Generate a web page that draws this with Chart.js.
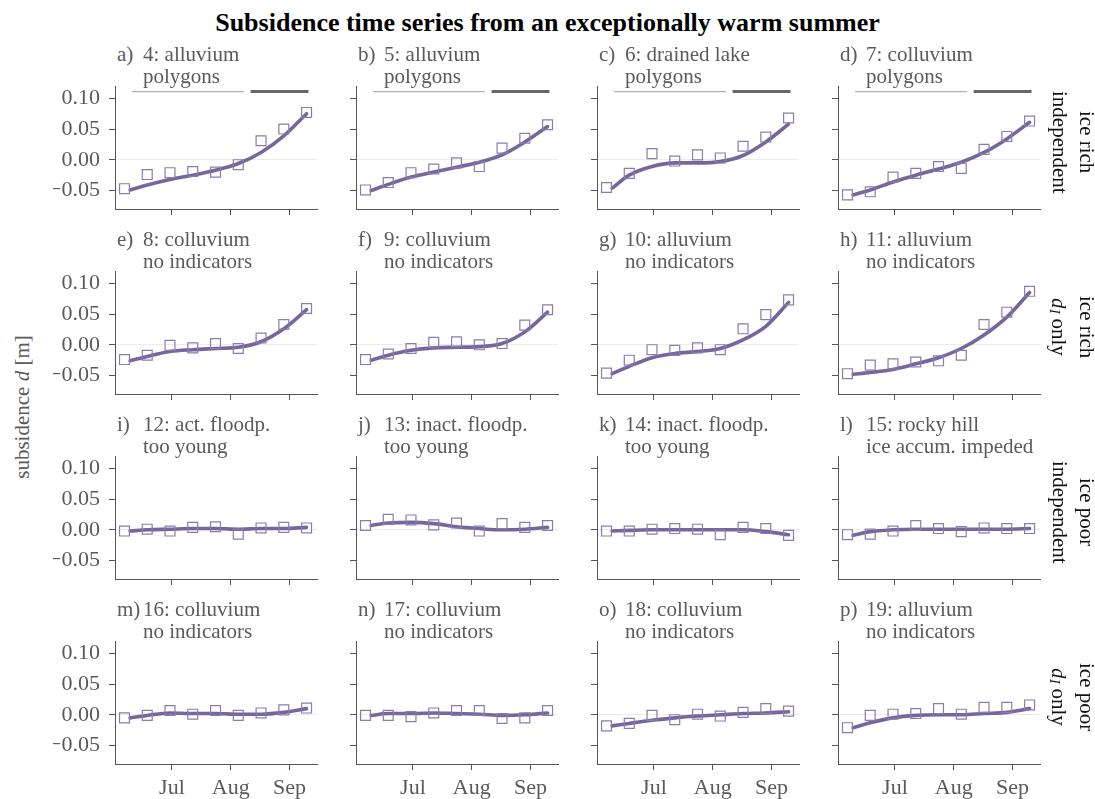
<!DOCTYPE html>
<html>
<head>
<meta charset="utf-8">
<script src="https://cdn.jsdelivr.net/npm/chart.js@4.4.1/dist/chart.umd.min.js"></script>
<style>
  body { margin: 0; background: #fff; }
  #fig { position: relative; width: 1095px; height: 799px; overflow: hidden; font-family: "Liberation Serif", "DejaVu Serif", serif; }
  #fig canvas { position: absolute; }
  .t { position: absolute; white-space: nowrap; color: #5a5a5a; font-size: 21px; line-height: 22px; }
  .title { position: absolute; left: 0; width: 1095px; top: 9px; text-align: center; font-weight: bold; font-size: 26px; line-height: 28px; color: #000; }
  .row { position: absolute; writing-mode: vertical-rl; text-align: center; font-size: 21px; line-height: 27px; color: #111; height: 160px; width: 54px; }
  .ylab { position: absolute; width: 240px; height: 24px; text-align: center; font-size: 21px; line-height: 24px; color: #5a5a5a; transform: rotate(-90deg); transform-origin: 50% 50%; white-space: nowrap; }
  .sub { font-size: 14px; position: relative; left: -5px; }
</style>
</head>
<body>
<div id="fig">
  <div class="title">Subsidence time series from an exceptionally warm summer</div>
</div>
<script>
// acquisition dates (day of year), 12-day repeat
const obsDays = [157, 169, 181, 193, 205, 217, 229, 241, 253];
// the fitted model starts a few days after the first acquisition
const fitDays = [160, 169, 181, 193, 205, 217, 229, 241, 253];

const monthDays = [182, 213, 244];
const monthNames = ['Jul', 'Aug', 'Sep'];
const yTickValues = [0.10, 0.05, 0.00, -0.05];

// seasonal bars drawn above the ice-rich polygon panels
const thinBar = [161, 220];
const thickBar = [223.5, 254];
const barLevel = 0.111;

const letters = ['a', 'b', 'c', 'd', 'e', 'f', 'g', 'h', 'i', 'j', 'k', 'l', 'm', 'n', 'o', 'p'];
const sites = ['4: alluvium', '5: alluvium', '6: drained lake', '7: colluvium',
               '8: colluvium', '9: colluvium', '10: alluvium', '11: alluvium',
               '12: act. floodp.', '13: inact. floodp.', '14: inact. floodp.', '15: rocky hill',
               '16: colluvium', '17: colluvium', '18: colluvium', '19: alluvium'];
const indicators = ['polygons', 'polygons', 'polygons', 'polygons',
                    'no indicators', 'no indicators', 'no indicators', 'no indicators',
                    'too young', 'too young', 'too young', 'ice accum. impeded',
                    'no indicators', 'no indicators', 'no indicators', 'no indicators'];
const rowLabels = [
  ['ice rich', 'independent'],
  ['ice rich', '<i>d</i><i class="sub">I</i> only'],
  ['ice poor', 'independent'],
  ['ice poor', '<i>d</i><i class="sub">I</i> only']
];

// observed subsidence (squares) and fitted model (line), metres
const obsA = [-0.047, -0.024, -0.021, -0.019, -0.020, -0.008, 0.031, 0.050, 0.077];
const fitA = [-0.049, -0.041, -0.032, -0.025, -0.017, -0.006, 0.012, 0.039, 0.075];
const obsB = [-0.049, -0.037, -0.021, -0.015, -0.005, -0.011, 0.019, 0.035, 0.057];
const fitB = [-0.050, -0.040, -0.028, -0.020, -0.012, -0.004, 0.008, 0.029, 0.054];
const obsC = [-0.045, -0.022, 0.010, -0.002, 0.008, 0.003, 0.022, 0.037, 0.068];
const fitC = [-0.046, -0.025, -0.011, -0.005, -0.005, -0.003, 0.007, 0.029, 0.058];
const obsD = [-0.057, -0.052, -0.028, -0.022, -0.011, -0.014, 0.017, 0.038, 0.063];
const fitD = [-0.057, -0.049, -0.036, -0.025, -0.015, -0.004, 0.012, 0.034, 0.061];

const obsE = [-0.024, -0.017, -0.001, -0.005, 0.002, -0.006, 0.011, 0.033, 0.059];
const fitE = [-0.026, -0.019, -0.011, -0.008, -0.006, -0.004, 0.005, 0.026, 0.057];
const obsF = [-0.024, -0.015, -0.006, 0.004, 0.005, 0.000, 0.002, 0.032, 0.057];
const fitF = [-0.025, -0.017, -0.009, -0.005, -0.004, -0.003, 0.002, 0.021, 0.053];
const obsG = [-0.046, -0.025, -0.008, -0.009, -0.005, -0.008, 0.026, 0.049, 0.073];
const fitG = [-0.047, -0.035, -0.021, -0.014, -0.011, -0.006, 0.008, 0.030, 0.069];
const obsH = [-0.047, -0.033, -0.031, -0.028, -0.026, -0.017, 0.033, 0.053, 0.087];
const fitH = [-0.048, -0.045, -0.040, -0.031, -0.021, -0.006, 0.016, 0.045, 0.085];

const obsI = [-0.002, 0.001, -0.002, 0.004, 0.005, -0.007, 0.003, 0.004, 0.003];
const fitI = [-0.002, 0.000, 0.001, 0.002, 0.002, 0.001, 0.002, 0.002, 0.004];
const obsJ = [0.007, 0.017, 0.016, 0.008, 0.011, -0.002, 0.010, 0.004, 0.007];
const fitJ = [0.007, 0.011, 0.012, 0.010, 0.005, 0.002, 0.000, 0.001, 0.004];
const obsK = [-0.002, -0.002, 0.001, 0.002, 0.001, -0.008, 0.004, 0.002, -0.009];
const fitK = [-0.002, -0.001, 0.000, 0.000, 0.000, 0.000, 0.000, -0.003, -0.008];
const obsL = [-0.008, -0.007, -0.002, 0.007, 0.002, -0.003, 0.003, 0.002, 0.002];
const fitL = [-0.009, -0.003, 0.000, 0.001, 0.001, 0.001, 0.001, 0.001, 0.002];

const obsM = [-0.005, -0.001, 0.007, 0.001, 0.007, -0.001, 0.003, 0.008, 0.011];
const fitM = [-0.005, -0.001, 0.003, 0.002, 0.002, 0.001, 0.001, 0.004, 0.010];
const obsN = [-0.001, -0.001, -0.003, 0.003, 0.007, 0.007, -0.006, -0.005, 0.007];
const fitN = [-0.001, 0.002, 0.002, 0.003, 0.002, 0.001, -0.001, 0.000, 0.003];
const obsO = [-0.018, -0.014, -0.001, -0.008, 0.001, -0.002, 0.004, 0.010, 0.006];
const fitO = [-0.018, -0.014, -0.009, -0.005, -0.002, 0.000, 0.002, 0.003, 0.005];
const obsP = [-0.021, -0.001, 0.001, 0.002, 0.010, 0.001, 0.012, 0.012, 0.016];
const fitP = [-0.021, -0.013, -0.005, -0.001, 0.000, 0.000, 0.002, 0.004, 0.010];

const observed = [obsA, obsB, obsC, obsD, obsE, obsF, obsG, obsH, obsI, obsJ, obsK, obsL, obsM, obsN, obsO, obsP];
const fitted = [fitA, fitB, fitC, fitD, fitE, fitF, fitG, fitH, fitI, fitJ, fitK, fitL, fitM, fitN, fitO, fitP];

// layout of the grid (plot areas)
const colLeft = [115, 356, 597, 838];
const rowTop = [86, 271, 456, 641];
const plotW = 202, plotH = 123;
const axW = 62, axH = 44, padTop = 12, padRight = 10;

const lineColor = '#75679b';
const markerColor = '#8a7cad';
const axisColor = '#555';
const textColor = '#5a5a5a';

Chart.defaults.font.family = '"Liberation Serif", "DejaVu Serif", serif';
Chart.defaults.font.size = 22;
Chart.defaults.color = textColor;

const fig = document.getElementById('fig');

function addText(cls, html, left, top) {
  const d = document.createElement('div');
  d.className = cls;
  d.innerHTML = html;
  d.style.left = left + 'px';
  d.style.top = top + 'px';
  fig.appendChild(d);
  return d;
}

function fmt(v) {
  return (v < 0 ? '\u2212' : '') + Math.abs(v).toFixed(2);
}

for (let i = 0; i < 16; i++) {
  const row = Math.floor(i / 4), col = i % 4;
  const cv = document.createElement('canvas');
  cv.width = axW + plotW + padRight;
  cv.height = padTop + plotH + axH;
  cv.style.left = (colLeft[col] - axW) + 'px';
  cv.style.top = (rowTop[row] - padTop) + 'px';
  fig.appendChild(cv);

  // panel title, two lines
  addText('t', letters[i] + ')', colLeft[col] + 2, rowTop[row] - 43);
  addText('t', sites[i] + '<br>' + indicators[i], colLeft[col] + 28, rowTop[row] - 43);

  const datasets = [];
  if (row === 0) {
    datasets.push({
      data: thinBar.map(x => ({ x: x, y: barLevel })),
      borderColor: '#b0b0b0', borderWidth: 1.3, pointRadius: 0, showLine: true
    });
    datasets.push({
      data: thickBar.map(x => ({ x: x, y: barLevel })),
      borderColor: '#666', borderWidth: 3, pointRadius: 0, showLine: true
    });
  }
  datasets.push({
    data: observed[i].map((v, k) => ({ x: obsDays[k], y: v })),
    showLine: false,
    pointStyle: 'rect',
    pointRadius: 7,
    pointBorderWidth: 1.2,
    pointBorderColor: markerColor,
    pointBackgroundColor: 'rgba(0,0,0,0)'
  });
  datasets.push({
    data: fitted[i].map((v, k) => ({ x: fitDays[k], y: v })),
    showLine: true,
    borderColor: lineColor,
    borderWidth: 3.6,
    pointRadius: 0,
    cubicInterpolationMode: 'monotone',
    borderCapStyle: 'round'
  });

  new Chart(cv, {
    type: 'scatter',
    data: { datasets: datasets },
    options: {
      responsive: false,
      animation: false,
      devicePixelRatio: 1,
      layout: { padding: { top: padTop, right: padRight, left: 0, bottom: 0 } },
      plugins: { legend: { display: false }, tooltip: { enabled: false } },
      scales: {
        x: {
          type: 'linear',
          min: 152,
          max: 258.5,
          afterBuildTicks: s => { s.ticks = monthDays.map(v => ({ value: v })); },
          afterFit: s => { s.height = axH; s.paddingLeft = 0; s.paddingRight = 0; },
          border: { display: true, color: axisColor, width: 1 },
          grid: { color: 'rgba(0,0,0,0)', tickColor: axisColor, tickLength: 6, drawTicks: true },
          ticks: {
            display: row === 3,
            padding: 5,
            maxRotation: 0,
            color: textColor,
            callback: v => monthNames[monthDays.indexOf(v)]
          }
        },
        y: {
          min: -0.08,
          max: 0.12,
          afterBuildTicks: s => { s.ticks = yTickValues.map(v => ({ value: v })); },
          afterFit: s => { s.width = axW; s.paddingTop = 0; s.paddingBottom = 0; },
          border: { display: true, color: axisColor, width: 1 },
          grid: {
            color: c => (c.tick && Math.abs(c.tick.value) < 1e-9) ? '#ebebeb' : 'rgba(0,0,0,0)',
            tickColor: axisColor,
            tickLength: 6
          },
          ticks: {
            display: col === 0,
            padding: 9,
            color: textColor,
            callback: v => fmt(v)
          }
        }
      }
    }
  });
}

// row labels on the right
for (let r = 0; r < 4; r++) {
  addText('row', rowLabels[r][0] + '<br>' + rowLabels[r][1], 1046, rowTop[r] + 56 - 80);
}

// common y label, centred at (22, 407)
addText('ylab', 'subsidence <i>d</i> [m]', 22 - 120, 407 - 12);
</script>
</body>
</html>
